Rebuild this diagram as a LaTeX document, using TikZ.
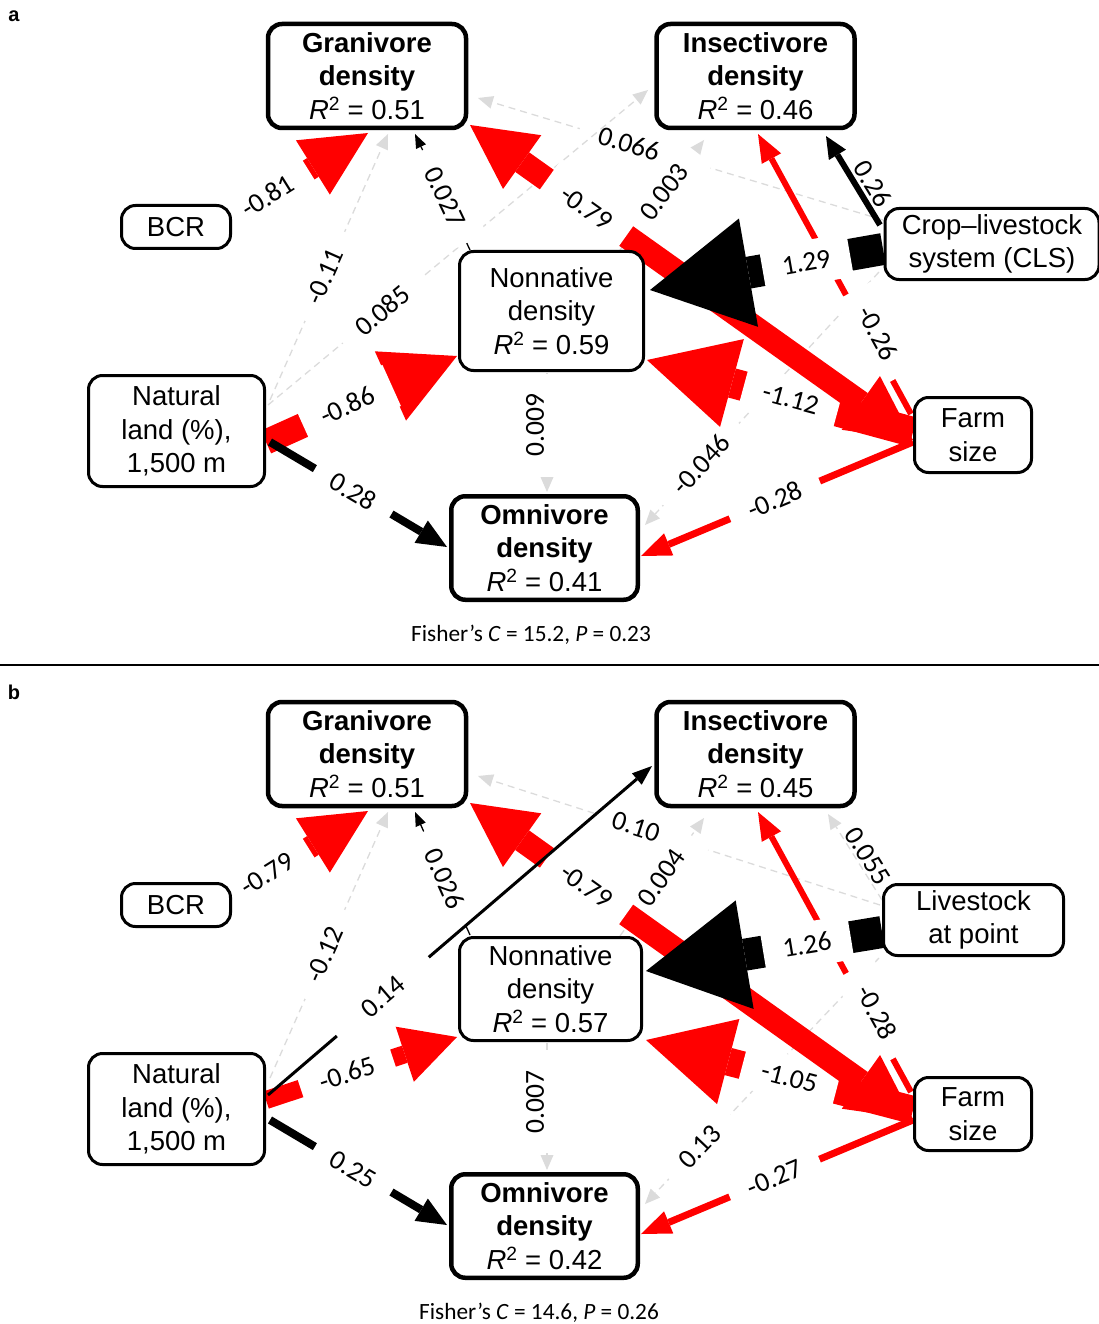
\documentclass[tikz,border=0pt]{standalone}
\usepackage{fontspec}
\setmainfont{Liberation Sans}
\newfontfamily\lblfont{Carlito}
\usetikzlibrary{arrows.meta,calc}
\pgfdeclarelayer{bg}
\pgfsetlayers{bg,main}
\definecolor{greyc}{gray}{0.86}
\newcommand\nodefnt{\fontsize{27.5}{33.5}\selectfont}
\newcommand\lblfnt{\lblfont\fontsize{27.5}{30}\selectfont}
\newcommand\Rsq[1]{{\itshape R}\textsuperscript{2} = #1}
\tikzset{
  box/.style={draw, fill=white, line width=3pt, rounded corners=14pt, align=center, inner sep=0pt, font=\nodefnt},
  bbox/.style={box, line width=4.5pt},
  lbl/.style={fill=white, text=black, inner xsep=20pt, inner ysep=13pt, font=\lblfnt, sloped},
  gr/.style={draw=greyc, line width=1.3pt, dash pattern=on 7pt off 5pt, -{Triangle[length=15pt,width=13pt,line width=0pt]}},
  ar/.style n args={3}{line width=#1pt, arrows={-{Triangle[length=#2pt,width=#3pt,line width=0pt]}}},
  dar/.style n args={3}{line width=#1pt, arrows={{Triangle[length=#2pt,width=#3pt,line width=0pt]}-{Triangle[length=#2pt,width=#3pt,line width=0pt]}}},
}
\begin{document}
\begin{tikzpicture}[x=1pt,y=-1pt]
\useasboundingbox (0,0) rectangle (1099,1324);

% ---------------- panel a nodes
\node[font=\bfseries\fontsize{20}{24}\selectfont] (pa) at (14,16) {a};
\node[bbox, minimum width=198pt, minimum height=104pt] (ga) at (367,76) {\textbf{Granivore}\\\textbf{density}\\\Rsq{0.51}};
\node[bbox, minimum width=198pt, minimum height=104pt] (ia) at (755.5,76) {\textbf{Insectivore}\\\textbf{density}\\\Rsq{0.46}};
\node[box, minimum width=109pt, minimum height=43pt] (ba) at (176,227) {BCR};
\node[box, minimum width=214pt, minimum height=71pt] (ca) at (992,244) {Crop–livestock\\system (CLS)};
\node[box, minimum width=184pt, minimum height=119pt] (na) at (551.5,311) {Nonnative\\density\\\Rsq{0.59}};
\node[box, minimum width=176pt, minimum height=111pt] (la) at (176.5,431) {Natural\\land (\%),\\1,500 m};
\node[box, minimum width=117pt, minimum height=75pt] (fa) at (973,435) {Farm\\size};
\node[bbox, minimum width=186.5pt, minimum height=103.5pt] (oa) at (544.5,548) {\textbf{Omnivore}\\\textbf{density}\\\Rsq{0.41}};
\node[font=\lblfont\fontsize{23.3}{26}\selectfont] (fisha) at (531,635) {Fisher’s \textit{C} = 15.2, \textit{P} = 0.23};

\coordinate (s1) at (0,665);
\coordinate (s2) at (1099,665);
\draw[line width=2.5pt] (s1) -- (s2);

% ---------------- panel b nodes
\node[font=\bfseries\fontsize{20}{24}\selectfont] (pb) at (14,692) {b};
\node[bbox, minimum width=198pt, minimum height=104pt] (gb) at (367,754) {\textbf{Granivore}\\\textbf{density}\\\Rsq{0.51}};
\node[bbox, minimum width=198pt, minimum height=104pt] (ib) at (755.5,754) {\textbf{Insectivore}\\\textbf{density}\\\Rsq{0.45}};
\node[box, minimum width=109pt, minimum height=43pt] (bb) at (176,905) {BCR};
\node[box, minimum width=180pt, minimum height=71pt] (kb) at (973.5,920) {Livestock\\at point};
\node[box, minimum width=182pt, minimum height=103pt] (nb) at (550.5,989) {Nonnative\\density\\\Rsq{0.57}};
\node[box, minimum width=176pt, minimum height=111pt] (lb) at (176.5,1109) {Natural\\land (\%),\\1,500 m};
\node[box, minimum width=117pt, minimum height=73pt] (fb) at (973,1114) {Farm\\size};
\node[bbox, minimum width=186.5pt, minimum height=103.5pt] (ob) at (544.5,1226) {\textbf{Omnivore}\\\textbf{density}\\\Rsq{0.42}};
\node[font=\lblfont\fontsize{23.3}{26}\selectfont] (fishb) at (539,1313) {Fisher’s \textit{C} = 14.6, \textit{P} = 0.26};

\begin{pgfonlayer}{bg}
% ================= panel a edges
\draw[gr] ($(la)+(93.5,-31)$) -- ($(ga)+(21,58)$) node[lbl, pos=0.465] (ea2) {-0.11};
\draw[gr] ($(ca)+(-109,-24)$) -- ($(ga)+(111,22)$) node[lbl, pos=0.627] (ea4) {0.066};
\draw[gr] ($(la)+(91.5,-26)$) -- ($(ia)+(-107.5,14)$) node[lbl, pos=0.301] (ea6) {0.085};
\draw[gr] ($(na)+(68.5,-61)$) -- ($(ia)+(-51.5,64)$) node[lbl, pos=0.526] (ea7) {0.003};
\draw[gr] ($(ca)+(-113,28)$) -- ($(oa)+(100.5,-23)$) node[lbl, pos=0.76] (ea11) {-0.046};
\draw[gr] ($(na)+(-4.5,62)$) -- ($(oa)+(2.5,-56)$);
\node[lbl, sloped=false, rotate=90] (ea12) at (535,425) {0.009};
\draw[black, ar={1.3}{14}{11}] ($(na)+(-81.5,-61)$) -- ($(ga)+(48,58)$) node[lbl, pos=0.46] (ea3) {0.027};
\draw[red, ar={6}{28}{22}] ($(fa)+(-62,-21)$) -- ($(ia)+(2.5,58)$);
\node[lbl, sloped=false, rotate=-61.4] (ea8) at (878,333) {-0.26};
\draw[red, ar={30}{88}{91}] ($(fa)+(-60,-3)$) -- ($(na)+(95.5,49)$) node[lbl, pos=0.46] (ea13) {-1.12};
\draw[red, ar={25}{73}{76}] ($(la)+(89.5,11)$) -- ($(na)+(-94.5,45)$) node[lbl, pos=0.426] (ea15) {-0.86};
\draw[red, ar={22}{65}{64}] ($(ba)+(56,-9)$) -- ($(ga)+(1,57)$) node[lbl, pos=0.26] (ea1) {-0.81};
\draw[red, ar={7}{30}{24}] ($(fa)+(-60,7)$) -- ($(oa)+(96.5,8)$) node[lbl, pos=0.508] (ea14) {-0.28};
\draw[red, dar={24}{64}{66}] ($(ga)+(103,49)$) -- ($(fa)+(-60,5)$) node[lbl, pos=0.263] (ea5) {-0.79};
\draw[black, ar={32}{100}{110}] ($(ca)+(-109,5)$) -- ($(na)+(98.5,-21)$) node[lbl, pos=0.329] (ea10) {1.29};
\draw[black, ar={8}{30}{26}] ($(la)+(93.5,11)$) -- ($(oa)+(-97.5,-1)$) node[lbl, pos=0.47] (ea16) {0.28};
\node[lbl, sloped=false, inner xsep=3pt, inner ysep=1pt, rotate=-58.8] (ea9) at (873,184) {0.26};
\draw[black, ar={6}{22}{20}] ($(ca)+(-112,-19)$) -- ($(ia)+(70.5,60)$);

% ================= panel b edges
\draw[gr] ($(lb)+(93.5,-31)$) -- ($(gb)+(21,58)$) node[lbl, pos=0.465] (eb2) {-0.12};
\draw[gr] ($(kb)+(-93.5,-15)$) -- ($(gb)+(111,22)$) node[lbl, pos=0.607] (eb4) {0.10};
\draw[gr] ($(nb)+(69.5,-53)$) -- ($(ib)+(-51.5,64)$) node[lbl, pos=0.496] (eb7) {0.004};
\draw[gr] ($(kb)+(-94.5,38)$) -- ($(ob)+(100.5,-22)$) node[lbl, pos=0.767] (eb11) {0.13};
\draw[gr] ($(nb)+(-3.5,54)$) -- ($(ob)+(2.5,-56)$);
\node[lbl, sloped=false, rotate=90] (eb12) at (535,1102) {0.007};
\node[lbl, sloped=false, inner xsep=3pt, inner ysep=1pt, rotate=-58] (eb9) at (868,856) {0.055};
\draw[gr] ($(kb)+(-91.5,-20)$) -- ($(ib)+(72.5,60)$);
\draw[black, ar={1.3}{14}{11}] ($(nb)+(-80.5,-54)$) -- ($(gb)+(48,58)$) node[lbl, pos=0.46] (eb3) {0.026};
\draw[red, ar={6}{28}{22}] ($(fb)+(-62,-22)$) -- ($(ib)+(2.5,58)$);
\node[lbl, sloped=false, rotate=-61.3] (eb8) at (877,1012) {-0.28};
\draw[red, ar={28}{85}{88}] ($(fb)+(-60,-4)$) -- ($(nb)+(95.5,51)$) node[lbl, pos=0.463] (eb13) {-1.05};
\draw[red, ar={18}{55}{58}] ($(lb)+(89.5,-9)$) -- ($(nb)+(-93.5,48)$) node[lbl, pos=0.423] (eb15) {-0.65};
\draw[red, ar={22}{65}{64}] ($(bb)+(56,-9)$) -- ($(gb)+(1,57)$) node[lbl, pos=0.26] (eb1) {-0.79};
\draw[red, ar={7}{30}{24}] ($(fb)+(-60,6)$) -- ($(ob)+(96.5,8)$) node[lbl, pos=0.509] (eb14) {-0.27};
\draw[red, dar={24}{64}{66}] ($(gb)+(103,49)$) -- ($(fb)+(-60,5)$) node[lbl, pos=0.263] (eb5) {-0.79};
\draw[black, ar={32}{100}{110}] ($(kb)+(-91.5,12)$) -- ($(nb)+(95.5,-18)$) node[lbl, pos=0.318] (eb10) {1.26};
\draw[black, ar={8}{30}{26}] ($(lb)+(93.5,11)$) -- ($(ob)+(-97.5,-1)$) node[lbl, pos=0.47] (eb16) {0.25};
\draw[black, ar={3}{20}{15}] ($(lb)+(91.5,-14)$) -- ($(ib)+(-103.5,12)$) node[lbl, pos=0.299, inner xsep=36pt] (eb6) {0.14};
\end{pgfonlayer}
\end{tikzpicture}
\end{document}
